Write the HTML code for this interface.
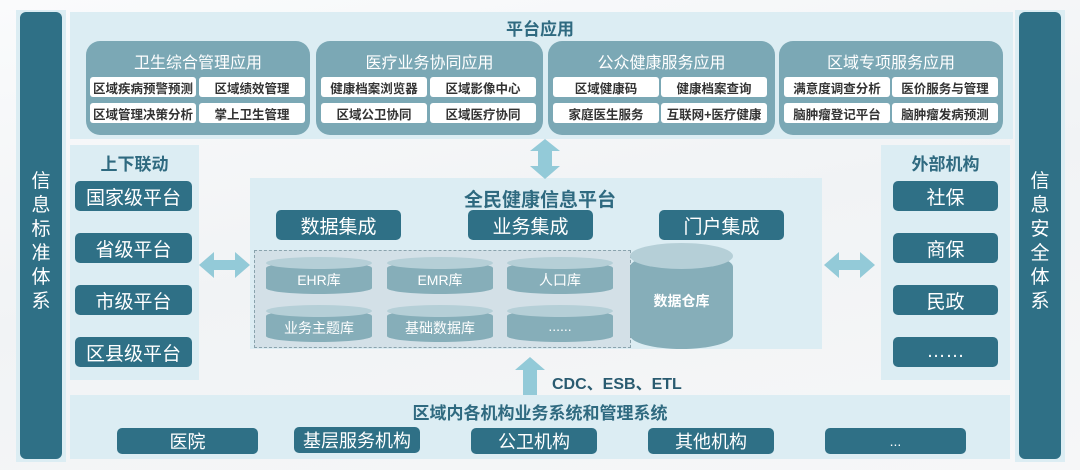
<!DOCTYPE html>
<html><head><meta charset="utf-8"><style>
*{margin:0;padding:0;box-sizing:border-box}
body{width:1080px;height:470px;position:relative;overflow:hidden;background:linear-gradient(170deg,#fafbfc 0%,#f1f3f5 50%,#f6f7f8 100%);font-family:"Liberation Sans","Noto Sans CJK SC",sans-serif}
.a{position:absolute}
.panel{position:absolute;background:#dcedf3}
.dk{position:absolute;background:#2f7086;color:#fff;border-radius:5px;display:flex;align-items:center;justify-content:center;font-size:19px}
.grp{position:absolute;background:#7ba8b5;border-radius:14px}
.gt{position:absolute;left:0;right:0;top:8px;text-align:center;color:#fff;font-size:16px}
.wb{position:absolute;background:#fff;border-radius:3px;color:#333;font-size:12.5px;font-weight:bold;display:flex;align-items:center;justify-content:center;width:106px;height:20px;white-space:nowrap}
.ttl{position:absolute;color:#2f6a80;font-weight:bold;text-align:center}
.cyl{position:absolute;width:106px;height:37px}
.cyl .b{position:absolute;left:0;right:0;top:5px;bottom:0;background:#86aeb9;border-radius:50%/6px}
.cyl .t{position:absolute;left:0;right:0;top:0;height:12px;background:#b5cfd7;border-radius:50%}
.cyl span{position:absolute;left:0;right:0;top:13px;text-align:center;color:#fff;font-size:14px}
.vt{position:absolute;color:#fff;font-size:19px;width:20px;line-height:24px;text-align:center}
</style></head><body>
<div class="a" style="left:16px;top:10px;width:50px;height:452px;background:#dcedf3"></div>
<div class="a" style="left:20px;top:12px;width:42px;height:447px;background:#2f7086;border-radius:6px"></div>
<div class="vt" style="left:31px;top:170px">信息标准体系</div>
<div class="a" style="left:1015px;top:10px;width:50px;height:452px;background:#dcedf3"></div>
<div class="a" style="left:1019px;top:12px;width:42px;height:447px;background:#2f7086;border-radius:6px"></div>
<div class="vt" style="left:1030px;top:170px">信息安全体系</div>

<div class="panel" style="left:70px;top:12px;width:943px;height:127px"></div>
<div class="ttl" style="left:440px;width:200px;top:15px;font-size:17px">平台应用</div>
<div class="grp" style="left:86px;top:41px;width:224px;height:94px"><div class="gt">卫生综合管理应用</div></div>
<div class="grp" style="left:316px;top:41px;width:227px;height:94px"><div class="gt">医疗业务协同应用</div></div>
<div class="grp" style="left:548px;top:41px;width:227px;height:94px"><div class="gt">公众健康服务应用</div></div>
<div class="grp" style="left:779px;top:41px;width:224px;height:94px"><div class="gt">区域专项服务应用</div></div>
<div class="wb" style="left:90px;top:77px">区域疾病预警预测</div>
<div class="wb" style="left:199px;top:77px">区域绩效管理</div>
<div class="wb" style="left:90px;top:103px">区域管理决策分析</div>
<div class="wb" style="left:199px;top:103px">掌上卫生管理</div>
<div class="wb" style="left:321px;top:77px">健康档案浏览器</div>
<div class="wb" style="left:430px;top:77px">区域影像中心</div>
<div class="wb" style="left:321px;top:103px">区域公卫协同</div>
<div class="wb" style="left:430px;top:103px">区域医疗协同</div>
<div class="wb" style="left:553px;top:77px">区域健康码</div>
<div class="wb" style="left:661px;top:77px">健康档案查询</div>
<div class="wb" style="left:553px;top:103px">家庭医生服务</div>
<div class="wb" style="left:661px;top:103px">互联网+医疗健康</div>
<div class="wb" style="left:784px;top:77px">满意度调查分析</div>
<div class="wb" style="left:892px;top:77px">医价服务与管理</div>
<div class="wb" style="left:784px;top:103px">脑肿瘤登记平台</div>
<div class="wb" style="left:892px;top:103px">脑肿瘤发病预测</div>

<div class="panel" style="left:70px;top:145px;width:129px;height:235px"></div>
<div class="ttl" style="left:70px;width:129px;top:150px;font-size:17px">上下联动</div>
<div class="dk" style="left:75px;top:181px;width:117px;height:30px">国家级平台</div>
<div class="dk" style="left:75px;top:233px;width:117px;height:30px">省级平台</div>
<div class="dk" style="left:75px;top:285px;width:117px;height:30px">市级平台</div>
<div class="dk" style="left:75px;top:337px;width:117px;height:30px">区县级平台</div>

<div class="panel" style="left:881px;top:145px;width:129px;height:235px"></div>
<div class="ttl" style="left:881px;width:129px;top:150px;font-size:17px">外部机构</div>
<div class="dk" style="left:893px;top:181px;width:105px;height:30px">社保</div>
<div class="dk" style="left:893px;top:233px;width:105px;height:30px">商保</div>
<div class="dk" style="left:893px;top:285px;width:105px;height:30px">民政</div>
<div class="dk" style="left:893px;top:337px;width:105px;height:30px">……</div>

<div class="panel" style="left:250px;top:178px;width:572px;height:171px"></div>
<div class="ttl" style="left:380px;width:320px;top:185px;font-size:19px">全民健康信息平台</div>
<div class="dk" style="left:276px;top:210px;width:125px;height:30px">数据集成</div>
<div class="dk" style="left:468px;top:210px;width:125px;height:30px">业务集成</div>
<div class="dk" style="left:659px;top:210px;width:125px;height:30px">门户集成</div>
<div class="a" style="left:254px;top:250px;width:377px;height:98px;background:#d3e0e7;border:1px dashed #8aa3ad"></div>
<div class="cyl" style="left:266px;top:257px"><div class="b"></div><div class="t"></div><span>EHR库</span></div>
<div class="cyl" style="left:387px;top:257px"><div class="b"></div><div class="t"></div><span>EMR库</span></div>
<div class="cyl" style="left:507px;top:257px"><div class="b"></div><div class="t"></div><span>人口库</span></div>
<div class="cyl" style="left:266px;top:305px"><div class="b"></div><div class="t"></div><span>业务主题库</span></div>
<div class="cyl" style="left:387px;top:305px"><div class="b"></div><div class="t"></div><span>基础数据库</span></div>
<div class="cyl" style="left:507px;top:305px"><div class="b"></div><div class="t"></div><span>......</span></div>
<div class="a" style="left:630px;top:243px;width:103px;height:106px">
 <div class="a" style="left:0;right:0;top:10px;bottom:0;background:#86aeb9;border-radius:50%/14px"></div>
 <div class="a" style="left:0;right:0;top:0;height:26px;background:#b5cfd7;border-radius:50%"></div>
 <div class="a" style="left:0;right:0;top:48px;text-align:center;color:#fff;font-weight:bold;font-size:14px">数据仓库</div>
</div>

<svg class="a" style="left:0;top:0" width="1080" height="470">
<g fill="#93cad8">
<polygon points="545,139 560,151 552,151 552,166 560,166 545,179 530,166 538,166 538,151 530,151"/>
<polygon points="199,265 214,252 214,260 235,260 235,252 250,265 235,278 235,270 214,270 214,278"/>
<polygon points="824,265 839,252 839,260 860,260 860,252 875,265 860,278 860,270 839,270 839,278"/>
<polygon points="530,357 545,370 537,370 537,396 523,396 523,370 515,370"/>
</g></svg>
<div class="ttl" style="left:552px;top:370px;font-size:16px;text-align:left;color:#2a5b70">CDC、ESB、ETL</div>

<div class="panel" style="left:70px;top:395px;width:940px;height:64px"></div>
<div class="ttl" style="left:300px;width:480px;top:399px;font-size:17px">区域内各机构业务系统和管理系统</div>
<div class="dk" style="left:117px;top:428px;width:141px;height:26px;font-size:18px">医院</div>
<div class="dk" style="left:294px;top:427px;width:126px;height:26px;font-size:18px">基层服务机构</div>
<div class="dk" style="left:471px;top:428px;width:126px;height:26px;font-size:18px">公卫机构</div>
<div class="dk" style="left:648px;top:428px;width:126px;height:26px;font-size:18px">其他机构</div>
<div class="dk" style="left:825px;top:428px;width:141px;height:26px;font-size:14px">...</div>
</body></html>
